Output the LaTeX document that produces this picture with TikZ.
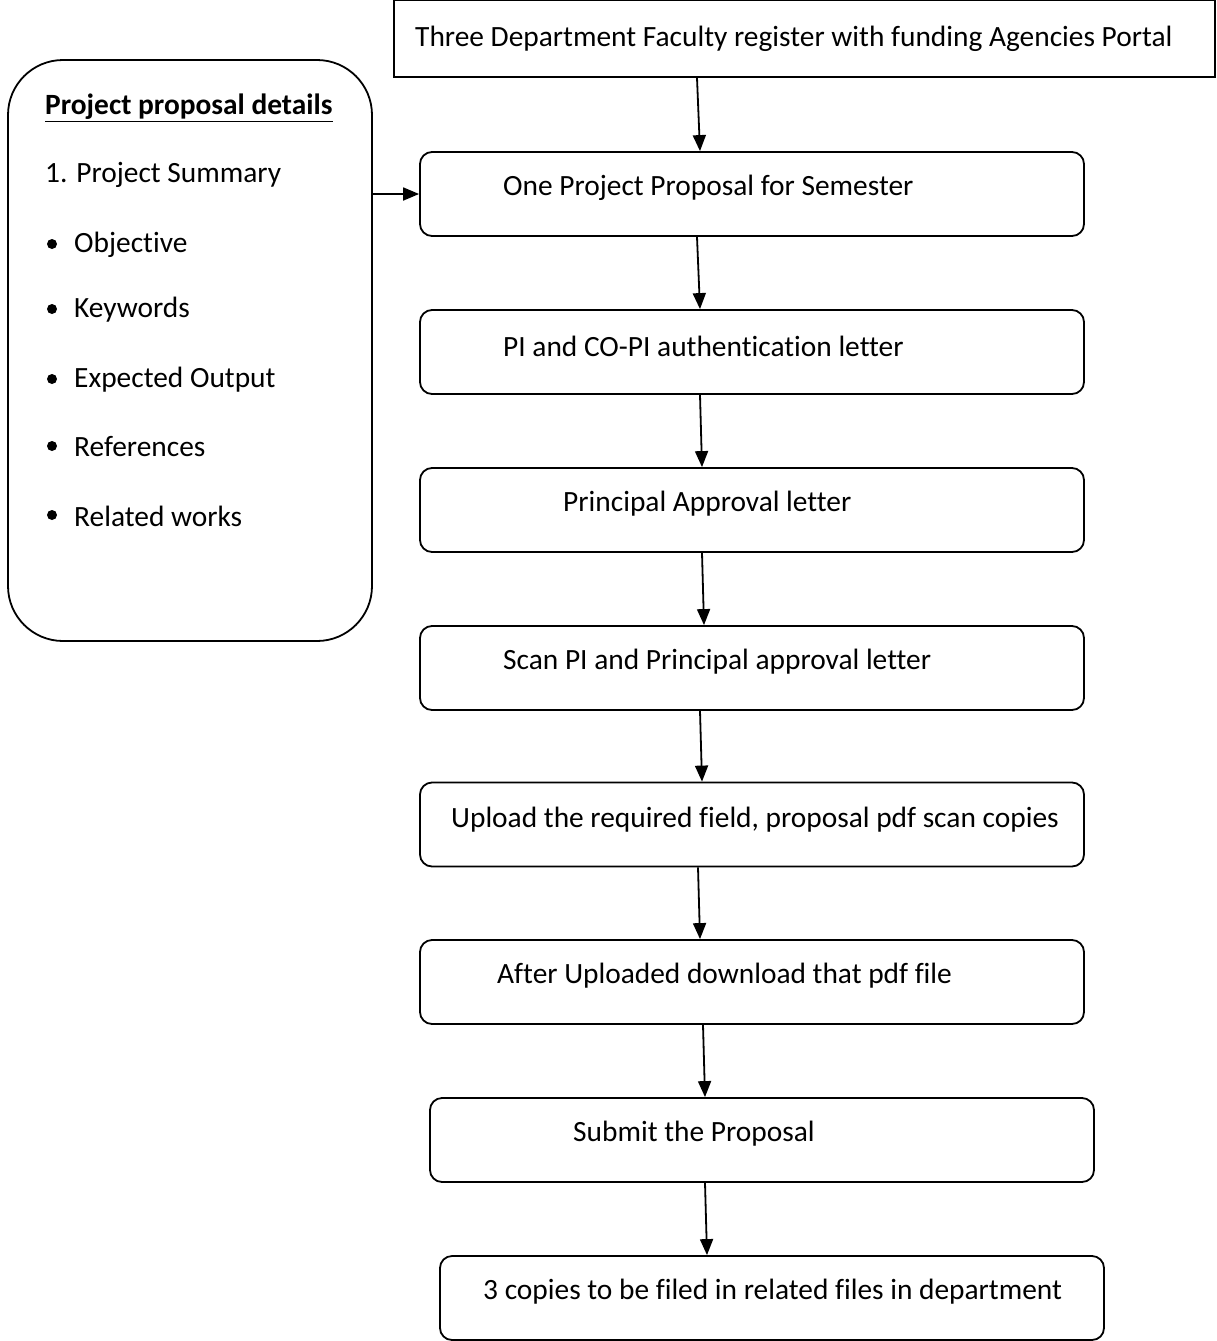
\documentclass[tikz,border=0pt]{standalone}
\usepackage{fontspec}
\setmainfont{Carlito}[Ligatures=CommonOff]
\usetikzlibrary{arrows.meta}
\begin{document}
\begin{tikzpicture}[x=1pt,y=-1pt,
  flowbox/.style={draw,line width=1.8pt,rounded corners=12pt,minimum width=664pt,minimum height=84pt,inner sep=0pt},
  txt/.style={anchor=west,inner sep=0pt,font=\fontsize{29.4}{33}\selectfont},
  arr/.style={-{Triangle[length=16pt,width=13pt]},line width=1.8pt},
  item/.style={anchor=west,inner sep=0pt,font=\fontsize{29.4}{33}\selectfont}]
\useasboundingbox (0,0) rectangle (1217,1341);
% portal registration box
\node[draw,line width=1.8pt,minimum width=821pt,minimum height=77pt,inner sep=0pt] (t) at (804.5,38.5) {};
\node[txt] (tt) at (415,39) {Three Department Faculty register with funding Agencies Portal};
% process steps
\node[flowbox] (b1) at (752,194) {};
\node[txt] at (503,188) {One Project Proposal for Semester};
\node[flowbox] (b2) at (752,352) {};
\node[txt] at (503,346) {PI and CO-PI authentication letter};
\node[flowbox] (b3) at (752,510) {};
\node[txt] at (563,504) {Principal Approval letter};
\node[flowbox] (b4) at (752,668) {};
\node[txt] at (503,662) {Scan PI and Principal approval letter};
\node[flowbox] (b5) at (752,824.5) {};
\node[txt] at (451,820) {Upload the required field, proposal pdf scan copies};
\node[flowbox] (b6) at (752,982) {};
\node[txt] at (497,976) {After Uploaded download that pdf file};
\node[flowbox] (b7) at (762,1140) {};
\node[txt] at (573,1134) {Submit the Proposal};
\node[flowbox] (b8) at (772,1298) {};
\node[txt] at (483,1292) {3 copies to be filed in related files in department};
% proposal details panel
\node[draw,line width=1.8pt,rounded corners=55pt,minimum width=364pt,minimum height=581pt,inner sep=0pt] (d) at (190,350.5) {};
\node[item,font=\fontsize{29.4}{33}\selectfont\bfseries] at (45,108) {\underline{Project proposal details}};
\node[item] at (45,175) {1. Project Summary};
\foreach \y/\t in {244/Objective,309/Keywords,379/Expected Output,446/References,515/Related works}{
  \fill (52,\y) circle (5pt);
  \node[item] at (74,\y+1) {\t};
}
% connectors
\draw[arr] ([xshift=-107.5pt]t.south) -- ([xshift=-52pt]b1.north);
\draw[arr] ([xshift=-55pt]b1.south) -- ([xshift=-52pt]b2.north);
\draw[arr] ([xshift=-52pt]b2.south) -- ([xshift=-50pt]b3.north);
\draw[arr] ([xshift=-50pt]b3.south) -- ([xshift=-48pt]b4.north);
\draw[arr] ([xshift=-52pt]b4.south) -- ([xshift=-50pt]b5.north);
\draw[arr] ([xshift=-54pt]b5.south) -- ([xshift=-52pt]b6.north);
\draw[arr] ([xshift=-49pt]b6.south) -- ([xshift=-57pt]b7.north);
\draw[arr] ([xshift=-57pt]b7.south) -- ([xshift=-65pt]b8.north);
\draw[arr] (d.east |- b1.west) -- (b1.west);
\end{tikzpicture}
\end{document}
